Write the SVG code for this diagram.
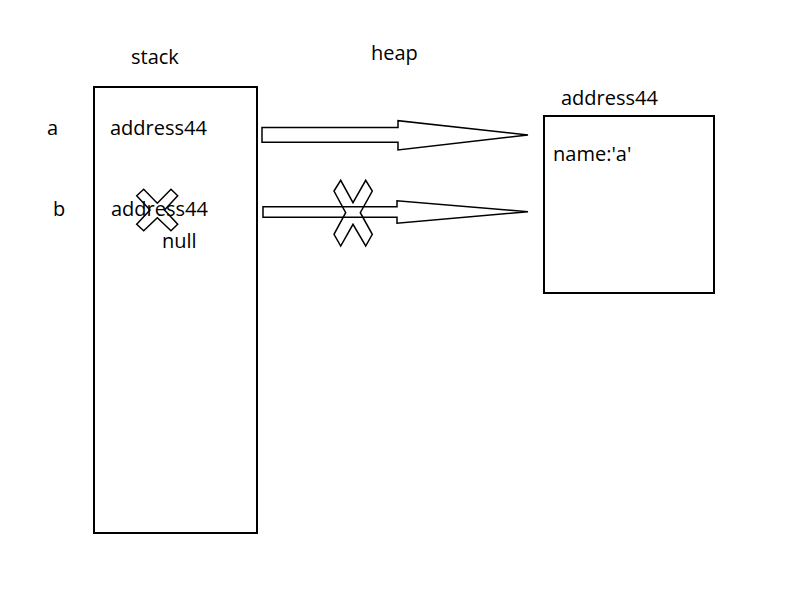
<svg xmlns="http://www.w3.org/2000/svg" width="800" height="600" viewBox="0 0 800 600">
<style>
text{font-family:"Open Sans","Noto Sans",sans-serif;font-size:20px;fill:#000}
.box{fill:#fff;stroke:#000;stroke-width:2}
.arr{fill:#fff;stroke:#000;stroke-width:1.5;stroke-linejoin:miter}
.x{fill:none;stroke:#000;stroke-width:1.5}
</style>
<rect width="800" height="600" fill="#fff"/>
<text x="131" y="64">stack</text>
<text x="371" y="60">heap</text>
<text x="47" y="135">a</text>
<text x="53" y="216">b</text>
<g id="stack">
<rect class="box" x="94" y="87" width="163" height="446"/>
<text x="110" y="135">address44</text>
<text x="111" y="216">address44</text>
<text x="162" y="248">null</text>
<polygon class="x" points="136.7,195.7 143.7,189.3 157.3,203.3 171,189.3 177.7,195.7 164.5,210 177.7,224.3 171,230.7 157.3,217.7 143.7,230.7 136.7,224.3 150,210"/>
</g>
<g id="heap">
<text x="561" y="105">address44</text>
<rect class="box" x="544" y="116" width="170" height="177"/>
<text x="553" y="161">name:'a'</text>
</g>
<g id="connectors">
<polygon class="arr" points="262,127.5 398,127.5 398,120.7 528,135 398,150 398,142.3 262,142.3"/>
<polygon class="arr" points="263,206.7 397,206.7 397,200.7 528,211.7 397,223.3 397,217.3 263,217.3"/>
<polygon class="x" points="334,191 340.7,180.3 353,202.7 365.7,180.3 372.3,191 360.3,212.7 372.3,234.3 365.7,246 353,224.3 340.7,246 334,234.3 345.7,212.7"/>
</g>
</svg>
